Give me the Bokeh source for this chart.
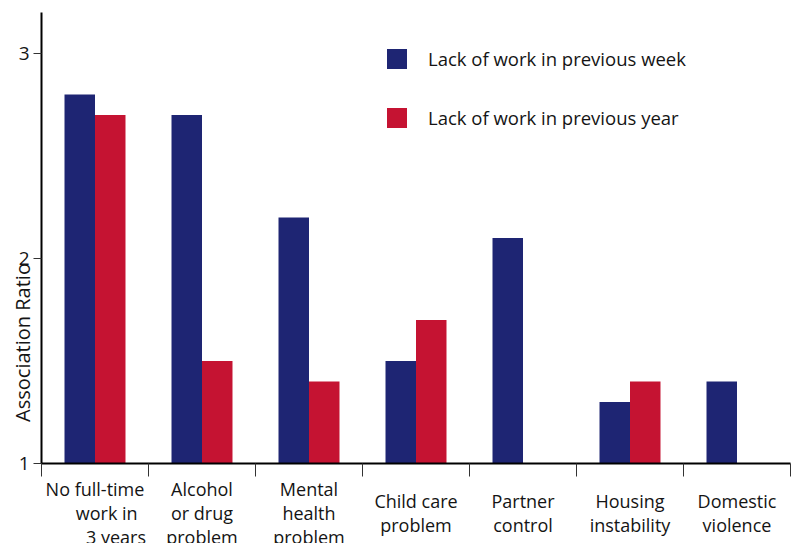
import math
from bokeh.plotting import figure
from bokeh.models import (Range1d, FixedTicker, Label, Legend, LegendItem, ColumnDataSource)
from bokeh.embed import file_html
from bokeh.resources import INLINE

NB = "\u00a0"
categories = [
    "No full-time\n" + NB * 5 + "work in\n" + NB * 9 + "3 years",
    "Alcohol\nor drug\nproblem",
    "Mental\nhealth\nproblem",
    "Child care\nproblem",
    "Partner\ncontrol",
    "Housing\ninstability",
    "Domestic\nviolence",
]
week_values = [2.8, 2.7, 2.2, 1.5, 2.1, 1.3, 1.4]
year_values = [2.7, 1.5, 1.4, 1.7, None, 1.4, None]
series_names = ["Lack of work in previous week", "Lack of work in previous year"]
y_ticks = [1, 2, 3]
y_min, y_max = 1, 3.2

BLUE = "#1e2573"
RED = "#c51332"
FONT = "Open Sans"
TXT = "#141414"

# canvas and plot-area placement (pixels)
W, H = 799, 543
LEFT, RIGHT, TOP, BOTTOM = 41, 790, 12, 463

n = len(categories)
px_x = (RIGHT - LEFT) / n
px_y = (BOTTOM - TOP) / (y_max - y_min)
x_range = Range1d(-LEFT / px_x, n + (W - RIGHT) / px_x)
y_range = Range1d(y_min - (H - BOTTOM) / px_y, y_max + TOP / px_y)

bar_w = 0.285
week_src = ColumnDataSource(dict(
    x=[i + 0.5 - bar_w / 2 for i in range(n)],
    top=week_values))
yi = [i for i in range(n) if year_values[i] is not None]
year_src = ColumnDataSource(dict(
    x=[i + 0.5 + bar_w / 2 for i in yi],
    top=[year_values[i] for i in yi]))

p = figure(width=W, height=H, output_backend="svg", toolbar_location=None,
           x_range=x_range, y_range=y_range,
           min_border_left=0, min_border_right=0, min_border_top=0, min_border_bottom=0)
p.outline_line_color = None
p.xgrid.grid_line_color = None
p.ygrid.grid_line_color = None
p.background_fill_color = "white"
p.border_fill_color = "white"

r_week = p.vbar(x="x", top="top", bottom=y_min, width=bar_w, source=week_src,
                fill_color=BLUE, line_color=None)
r_year = p.vbar(x="x", top="top", bottom=y_min, width=bar_w, source=year_src,
                fill_color=RED, line_color=None)

# y axis
ya = p.yaxis[0]
ya.fixed_location = 0
ya.bounds = (y_min, y_max)
ya.ticker = FixedTicker(ticks=y_ticks)
ya.axis_line_width = 2
ya.axis_line_color = "black"
ya.major_tick_out = 8
ya.major_tick_in = 0
ya.major_tick_line_color = "#333333"
ya.minor_tick_line_color = None
ya.major_label_standoff = 4
ya.major_label_text_font = FONT
ya.major_label_text_font_size = "19px"
ya.major_label_text_color = TXT

# x axis: ticks at category boundaries
xa = p.xaxis[0]
xa.fixed_location = y_min
xa.bounds = (0, n)
xa.ticker = FixedTicker(ticks=list(range(n + 1)))
xa.axis_line_width = 2
xa.axis_line_color = "black"
xa.major_tick_out = 13
xa.major_tick_in = 0
xa.major_tick_line_color = "#333333"
xa.minor_tick_line_color = None
xa.major_label_overrides = {i: "" for i in range(n + 1)}

# category labels centred in each category
for i, cat in enumerate(categories):
    p.add_layout(Label(x=i + 0.5, y=31, y_units="screen", text=cat,
                       text_align="center", text_baseline="middle",
                       text_font=FONT, text_font_size="18px",
                       text_color=TXT, text_line_height=1.0))

# y axis title
p.add_layout(Label(x=22, y=201, x_units="screen", y_units="screen",
                   text="Association Ratio", angle=math.pi / 2,
                   text_align="center", text_baseline="middle",
                   text_font=FONT, text_font_size="20px", text_color=TXT))

legend = Legend(items=[LegendItem(label=series_names[0], renderers=[r_week]),
                       LegendItem(label=series_names[1], renderers=[r_year])],
                location=(384, H - 130), orientation="vertical")
legend.glyph_width = 25
legend.glyph_height = 25
legend.label_standoff = 19
legend.spacing = 34
legend.padding = 0
legend.margin = 0
legend.border_line_color = None
legend.background_fill_alpha = 0
legend.label_text_font = FONT
legend.label_text_font_size = "18.5px"
legend.label_text_color = TXT
p.add_layout(legend)

open("out.html", "w").write(file_html(p, INLINE))
